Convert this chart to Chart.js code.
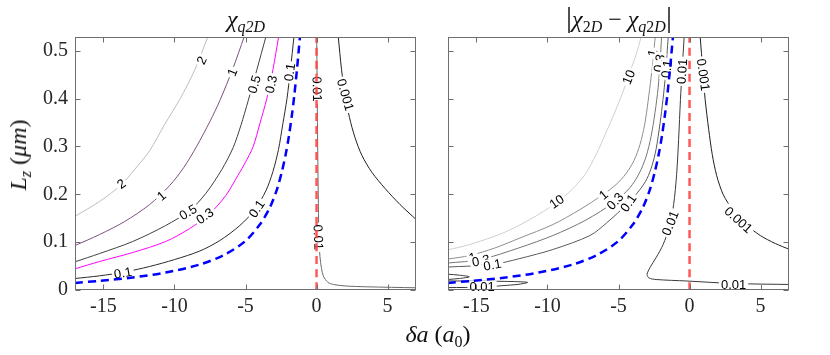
<!DOCTYPE html>
<html>
<head>
<meta charset="utf-8">
<script src="https://cdn.jsdelivr.net/npm/chart.js@4.4.0/dist/chart.umd.min.js"></script>
<style>
  body { margin: 0; background: #fff; }
  #wrap { position: relative; width: 830px; height: 355px; overflow: hidden;
          font-family: "Liberation Serif", "DejaVu Serif", serif; color: #111; }
  canvas { position: absolute; top: 0; }
  #cl { left: 0; }
  #cr { left: 430px; }
  .t { position: absolute; font-size: 24px; white-space: nowrap; line-height: 26px;
       transform: translate(-50%, -50%); }
  .t sub { font-size: 16px; vertical-align: -5px; }
  .big { font-size: 30px; font-style: normal; }
</style>
</head>
<body>
<div id="wrap">
  <canvas id="cl" width="430" height="355"></canvas>
  <canvas id="cr" width="400" height="355"></canvas>
  <div class="t" style="left:246px; top:23px;"><i>χ</i><sub><i>q2D</i></sub></div>
  <div class="t" style="left:619px; top:22px;"><span class="big">|</span><i>χ</i><sub>2<i>D</i></sub> − <i>χ</i><sub><i>q</i>2<i>D</i></sub><span class="big">|</span></div>
  <div class="t" style="left:438px; top:338px;"><i>δa</i> (<i>a</i><sub>0</sub>)</div>
  <div class="t" style="left:22px; top:155px; transform: translate(-50%, -50%) rotate(-90deg);"><i>L</i><sub><i>z</i></sub> (<i>μm</i>)</div>
</div>
<script>
// ---- ejes ----
const xMin = -17, xMax = 7, yMin = 0, yMax = 0.5286;
const xTicks = [-15, -10, -5, 0, 5];
const yTicks = [0, 0.1, 0.2, 0.3, 0.4, 0.5];

// ---- curvas comunes: critica (azul) y delta a = 0 (roja) ----
const critX = [-17, -15.27, -12.94, -10.62, -8.22, -6.46, -5.05, -3.99, -3.29, -2.79, -2.44, -2.16, -1.95, -1.73, -1.56, -1.38, -1.17];
const critY = [0.0146, 0.0192, 0.0261, 0.0365, 0.0532, 0.0741, 0.1013, 0.1367, 0.1722, 0.2098, 0.2474, 0.285, 0.3205, 0.3664, 0.4081, 0.4603, 0.5286];
const zeroX = [0, 0];
const zeroY = [0, 0.5286];

// ---- panel izquierdo: chi_q2D ----
const q2X = [-17, -15.27, -13.74, -12.8, -11.75, -10.69, -9.63, -8.57, -7.66];
const q2Y = [0.154, 0.185, 0.22, 0.252, 0.291, 0.346, 0.398, 0.46, 0.5286];
const q1X = [-17, -15.27, -13.51, -11.75, -10.34, -9.35, -8.45, -7.51, -6.81, -5.89, -5.1];
const q1Y = [0.0929, 0.1159, 0.143, 0.1785, 0.2182, 0.2557, 0.2996, 0.3518, 0.3956, 0.4624, 0.5286];
const q05X = [-17, -15.27, -12.94, -10.62, -8.93, -7.8, -6.67, -5.87, -5.33, -4.81, -4.2, -3.57];
const q05Y = [0.0589, 0.0762, 0.1013, 0.1347, 0.166, 0.2015, 0.2516, 0.2975, 0.3434, 0.3956, 0.4603, 0.5286];
const q03X = [-17, -15.27, -12.94, -10.62, -8.93, -7.51, -6.39, -5.54, -4.98, -4.46, -3.99, -3.5, -3.07, -2.67];
const q03Y = [0.0443, 0.0595, 0.0783, 0.1013, 0.1284, 0.1597, 0.1973, 0.239, 0.2683, 0.2996, 0.3476, 0.3998, 0.4603, 0.5286];
const q01X = [-17, -15.27, -13.51, -11.75, -9.98, -8.22, -6.81, -5.4, -4.34, -3.56, -3.07, -2.68, -2.37, -2.08, -1.84, -1.59];
const q01Y = [0.024, 0.0296, 0.0376, 0.0491, 0.0637, 0.0814, 0.1033, 0.1347, 0.1681, 0.2077, 0.2474, 0.2933, 0.3476, 0.3998, 0.4603, 0.5286];
const q001X = [0.01, 0.05, 0.08, 0.12, 0.16, 0.24, 0.35, 0.48, 0.8, 1.2, 2, 3.5, 7.05];
const q001Y = [0.5286, 0.4, 0.3, 0.2, 0.12, 0.07, 0.045, 0.029, 0.016, 0.0115, 0.0085, 0.0067, 0.0046];
const q0001X = [1.53, 1.76, 2.01, 2.32, 2.71, 3.2, 3.91, 4.83, 5.88, 7.01];
const q0001Y = [0.5286, 0.4603, 0.4081, 0.3601, 0.3183, 0.2808, 0.2453, 0.2119, 0.1785, 0.1472];

const leftLblText = ['2', '2', '1', '1', '0.5', '0.5', '0.3', '0.3', '0.1', '0.1', '0.1', '0.01', '0.01', '0.001'];
const leftLblX    = [-8.1, -13.74, -5.95, -10.92, -4.4, -9.05, -3.22, -7.87, -1.9, -4.22, -13.63, 0.06, 0.14, 2.05];
const leftLblY    = [0.48, 0.222, 0.455, 0.197, 0.43, 0.163, 0.43, 0.155, 0.455, 0.17, 0.036, 0.42, 0.11, 0.408];
const leftLblRot  = [-64, -36, -68, -40, -74, -30, -78, -35, -82, -55, -10, 89, 88, 74];

// ---- panel derecho: |chi_2D - chi_q2D| ----
const d10X = [-17, -15.47, -13.14, -11.24, -9.4, -8.28, -7.36, -6.58, -5.88, -5.24, -4.68, -4.19, -3.76, -3.41];
const d10Y = [0.0839, 0.095, 0.119, 0.1472, 0.1816, 0.2098, 0.2411, 0.2829, 0.3288, 0.3727, 0.4144, 0.4562, 0.4916, 0.5286];
const d1X = [-17, -15.47, -13.71, -11.94, -9.62, -7.71, -6.09, -5.17, -4.47, -3.91, -3.49, -3.16, -2.92, -2.71, -2.54, -2.42];
const d1Y = [0.0647, 0.072, 0.0877, 0.1086, 0.1367, 0.1681, 0.1994, 0.2203, 0.2432, 0.2704, 0.3038, 0.3455, 0.3935, 0.4436, 0.4875, 0.5286];
const d03X = [-17, -14.69, -11.94, -9.62, -7.36, -5.24, -4.19, -3.55, -3.06, -2.71, -2.43, -2.21, -2.07, -1.97];
const d03Y = [0.0564, 0.0637, 0.0887, 0.1138, 0.1451, 0.1848, 0.214, 0.2432, 0.2787, 0.3205, 0.3706, 0.4228, 0.477, 0.5286];
const d01X = [-17, -13.87, -11.94, -9.62, -7.01, -5.83, -4.31, -3.49, -2.99, -2.64, -2.36, -2.08, -1.87, -1.69, -1.59, -1.5];
const d01Y = [0.048, 0.0532, 0.0658, 0.0846, 0.1138, 0.1403, 0.182, 0.2098, 0.2328, 0.2599, 0.2933, 0.3476, 0.3977, 0.4499, 0.4916, 0.5286];
const d001X = [-0.38, -0.52, -0.64, -0.77, -0.91, -1.12, -1.44, -1.86, -2.35, -2.78, -2.99, -2.85, -2.35, -0.19, 3.08, 7.05];
const d001Y = [0.5286, 0.4603, 0.3977, 0.3142, 0.2411, 0.1785, 0.1305, 0.095, 0.0678, 0.047, 0.0324, 0.0251, 0.0219, 0.0188, 0.0136, 0.0115];
const d0001X = [0.75, 0.93, 1.1, 1.35, 1.6, 1.91, 2.37, 3.08, 3.99, 4.98, 6.04, 7.05];
const d0001Y = [0.5286, 0.4603, 0.3977, 0.3351, 0.2829, 0.239, 0.1994, 0.166, 0.1367, 0.1138, 0.0971, 0.0846];
// lazos 0.01 abajo a la izquierda
const loopAX = [-17, -15, -13, -11.4, -12, -13.2, -14.5, -17];
const loopAY = [0.019, 0.0185, 0.018, 0.016, 0.012, 0.009, 0.006, 0.005];
const loopBX = [-17, -16.2, -15.5, -16.2, -17];
const loopBY = [0.033, 0.031, 0.0276, 0.024, 0.022];

const rightLblText = ['10', '10', '1', '0.3', '0.1', '1', '0.3', '0.1', '1', '0.3', '0.1', '0.01', '0.01', '0.001', '0.001', '0.01', '0.01'];
const rightLblX    = [-4.3, -9.36, -2.62, -2.15, -1.62, -6.07, -5.25, -4.31, -15.28, -14.69, -13.87, -0.54, -1.37, 0.98, 3.45, 3.1, -14.6];
const rightLblY    = [0.445, 0.185, 0.495, 0.474, 0.462, 0.199, 0.186, 0.182, 0.0685, 0.0616, 0.053, 0.457, 0.14, 0.45, 0.147, 0.0125, 0.007];
const rightLblRot  = [-68, -35, -78, -80, -82, -40, -48, -55, -12, -12, -10, -86, -68, 82, 42, 0, 0];

// ---- helpers ----
function serie(xs, ys, color, width, dash) {
  return {
    data: xs.map((x, i) => ({ x: x, y: ys[i] })),
    showLine: true,
    borderColor: color,
    borderWidth: width || 1,
    borderDash: dash || [],
    pointRadius: 0,
    tension: 0.3,
    fill: false
  };
}

// marco con ticks hacia dentro (estilo MATLAB)
const frame = {
  id: 'frame',
  afterDraw(chart) {
    const { ctx, chartArea: a, scales: { x, y } } = chart;
    const L = Math.round(a.left) + 0.5, R = Math.round(a.right) - 0.5;
    const T = Math.round(a.top) + 0.5, B = Math.round(a.bottom) - 0.5;
    ctx.save();
    ctx.strokeStyle = '#6e6e6e';
    ctx.lineWidth = 1;
    ctx.strokeRect(L, T, R - L, B - T);
    ctx.beginPath();
    x.ticks.forEach(t => {
      const p = Math.round(x.getPixelForValue(t.value)) + 0.5;
      ctx.moveTo(p, B); ctx.lineTo(p, B - 5);
      ctx.moveTo(p, T); ctx.lineTo(p, T + 5);
    });
    y.ticks.forEach(t => {
      const p = Math.round(y.getPixelForValue(t.value)) + 0.5;
      ctx.moveTo(L, p); ctx.lineTo(L + 5, p);
      ctx.moveTo(R, p); ctx.lineTo(R - 5, p);
    });
    ctx.stroke();
    ctx.restore();
  }
};

// etiquetas de contorno (después del último contorno, antes de las líneas discontinuas)
function labelPlugin(texts, xs, ys, rots) {
  return {
    id: 'contourLabels',
    afterDatasetDraw(chart, args) {
      if (args.index !== 2) return;
      const { ctx, scales: { x, y } } = chart;
      ctx.save();
      ctx.font = '13px "Liberation Sans", Arial, sans-serif';
      ctx.textAlign = 'center';
      ctx.textBaseline = 'middle';
      texts.forEach((txt, i) => {
        ctx.save();
        ctx.translate(x.getPixelForValue(xs[i]), y.getPixelForValue(ys[i]));
        ctx.rotate(rots[i] * Math.PI / 180);
        const w = ctx.measureText(txt).width + 4;
        ctx.fillStyle = '#fff';
        ctx.fillRect(-w / 2, -6, w, 12);
        ctx.fillStyle = '#000';
        ctx.fillText(txt, 0, 1);
        ctx.restore();
      });
      ctx.restore();
    }
  };
}

Chart.defaults.font.family = 'Liberation Serif';
Chart.defaults.font.size = 20;

function makePanel(id, sets, lblPlugin, showY, pad) {
  return new Chart(document.getElementById(id), {
    type: 'scatter',
    data: { datasets: sets },
    options: {
      responsive: false,
      animation: false,
      layout: { padding: pad },
      plugins: { legend: { display: false }, tooltip: { enabled: false } },
      scales: {
        x: {
          type: 'linear', min: xMin, max: xMax,
          grid: { display: false, drawTicks: false }, border: { display: false },
          afterBuildTicks: s => { s.ticks = xTicks.map(v => ({ value: v })); },
          afterFit: s => { s.height = 30; },
          ticks: {
            color: '#262626', padding: 5, maxRotation: 0, autoSkip: false,
            font: { family: 'Liberation Serif', size: 20 },
            callback: v => String(v)
          }
        },
        y: {
          type: 'linear', min: yMin, max: yMax,
          grid: { display: false, drawTicks: false }, border: { display: false },
          afterBuildTicks: s => { s.ticks = yTicks.map(v => ({ value: v })); },
          afterFit: s => { s.width = showY ? 60 : 0; },
          ticks: {
            display: showY, color: '#262626', padding: 7, autoSkip: false,
            font: { family: 'Liberation Serif', size: 20 },
            callback: v => String(v)
          }
        }
      }
    },
    plugins: [frame, lblPlugin]
  });
}

const BLUE = '#0000ff', RED = 'rgba(255,70,70,0.9)';

makePanel('cl', [
  serie(critX, critY, BLUE, 2.5, [8, 5]),
  serie(zeroX, zeroY, RED, 2.5, [8, 5]),
  serie(q0001X, q0001Y, '#202020'),
  serie(q001X, q001Y, '#6a6a6a'),
  serie(q01X, q01Y, '#2a2a2a'),
  serie(q03X, q03Y, '#ff00ff'),
  serie(q05X, q05Y, '#404040'),
  serie(q1X, q1Y, '#7f4f80'),
  serie(q2X, q2Y, '#bdbdbd')
], labelPlugin(leftLblText, leftLblX, leftLblY, leftLblRot), true,
   { left: 15, top: 37, right: 14, bottom: 35 });

makePanel('cr', [
  serie(critX, critY, BLUE, 2.5, [8, 5]),
  serie(zeroX, zeroY, RED, 2.5, [8, 5]),
  serie(d0001X, d0001Y, '#1e1e1e'),
  serie(d001X, d001Y, '#3a3a3a'),
  serie(loopAX, loopAY, '#3a3a3a'),
  serie(loopBX, loopBY, '#3a3a3a'),
  serie(d01X, d01Y, '#5a5a5a'),
  serie(d03X, d03Y, '#747474'),
  serie(d1X, d1Y, '#8e8e8e'),
  serie(d10X, d10Y, '#cfcfcf')
], labelPlugin(rightLblText, rightLblX, rightLblY, rightLblRot), false,
   { left: 18, top: 37, right: 41, bottom: 35 });
</script>
</body>
</html>
